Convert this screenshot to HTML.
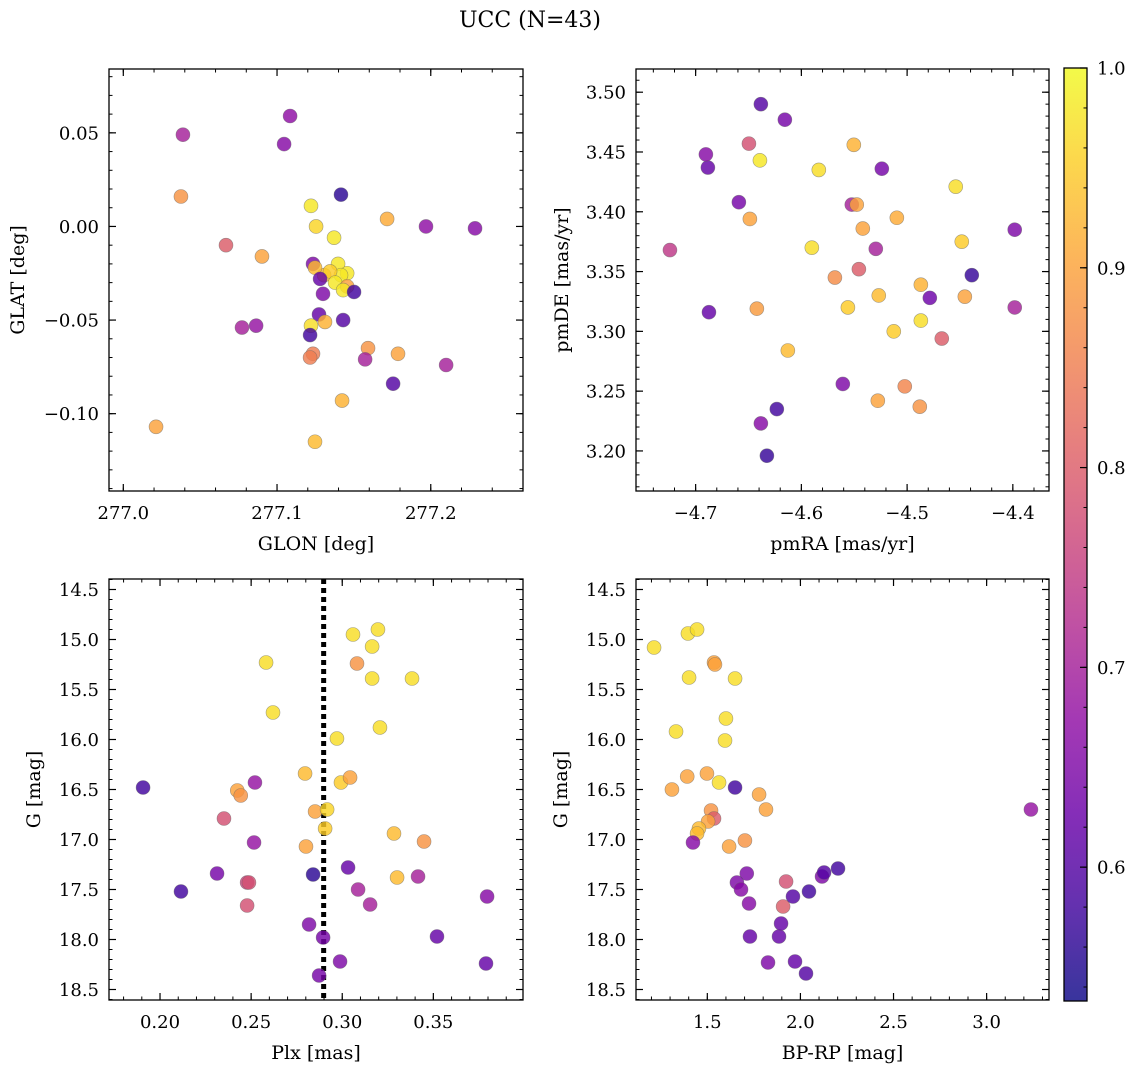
<!DOCTYPE html>
<html><head><meta charset="utf-8"><style>
body{margin:0;background:#fff;}
svg{display:block;font-family:"DejaVu Serif","Liberation Serif",serif;}
</style></head><body>
<svg id="fig" width="1136" height="1068" viewBox="0 0 1136 1068">
<text x="530" y="27" font-size="22" text-anchor="middle">UCC (N=43)</text>
</svg>
<script>
// Panel 1: GLON vs GLAT
const p1Glon=[277.0388,277.1085,277.1046,277.0375,277.1416,277.1221,277.1716,277.1969,277.2288,277.0668,277.1254,277.1371,277.0902,277.1234,277.1397,277.1456,277.1416,277.1306,277.1345,277.1247,277.1280,277.1378,277.1456,277.1430,277.1501,277.1299,277.1273,277.1430,277.1221,277.0772,277.0864,277.1312,277.1215,277.1234,277.1215,277.1592,277.1573,277.1787,277.2100,277.1755,277.1423,277.0213,277.1247];
const p1Glat=[0.049,0.059,0.044,0.016,0.017,0.011,0.004,0.000,-0.001,-0.010,0.000,-0.006,-0.016,-0.020,-0.020,-0.025,-0.026,-0.026,-0.024,-0.022,-0.028,-0.030,-0.032,-0.034,-0.035,-0.036,-0.047,-0.050,-0.053,-0.054,-0.053,-0.051,-0.058,-0.068,-0.070,-0.065,-0.071,-0.068,-0.074,-0.084,-0.093,-0.107,-0.115];
const p1Prob=[0.70,0.67,0.66,0.88,0.56,0.98,0.91,0.67,0.66,0.80,0.96,0.98,0.90,0.65,0.98,0.98,0.98,0.93,0.95,0.93,0.62,0.98,0.90,0.98,0.58,0.65,0.62,0.60,0.97,0.70,0.68,0.92,0.58,0.85,0.85,0.88,0.70,0.90,0.70,0.60,0.92,0.90,0.93];
// Panel 2: pmRA vs pmDE
const p2Pmra=[-4.7243,-4.6884,-4.6903,-4.6874,-4.6383,-4.6156,-4.6496,-4.6392,-4.6591,-4.6487,-4.5504,-4.5835,-4.5239,-4.4540,-4.5523,-4.5476,-4.5097,-4.5419,-4.5901,-4.5296,-4.5683,-4.5456,-4.4870,-4.5268,-4.4785,-4.4454,-4.4388,-4.3982,-4.3982,-4.6421,-4.5560,-4.5126,-4.4870,-4.4672,-4.6128,-4.5608,-4.5022,-4.5277,-4.4880,-4.6232,-4.6383,-4.6326,-4.4483];
const p2Pmde=[3.368,3.437,3.448,3.316,3.490,3.477,3.457,3.443,3.408,3.394,3.456,3.435,3.436,3.421,3.406,3.406,3.395,3.386,3.370,3.369,3.345,3.352,3.339,3.330,3.328,3.329,3.347,3.385,3.320,3.319,3.320,3.300,3.309,3.294,3.284,3.256,3.254,3.242,3.237,3.235,3.223,3.196,3.375];
const p2Prob=[0.74,0.62,0.66,0.62,0.60,0.64,0.78,0.98,0.64,0.90,0.92,0.97,0.64,0.97,0.70,0.90,0.91,0.90,0.97,0.70,0.87,0.80,0.92,0.93,0.63,0.90,0.57,0.65,0.70,0.89,0.95,0.95,0.97,0.80,0.93,0.65,0.86,0.90,0.88,0.58,0.66,0.57,0.95];
// Panel 3: Plx vs G
const p3Plx=[0.1907,0.2115,0.2313,0.2351,0.2424,0.2443,0.2521,0.2516,0.2478,0.2488,0.2478,0.2582,0.2620,0.2796,0.2801,0.2851,0.2840,0.2818,0.2873,0.2895,0.2917,0.2906,0.2971,0.2993,0.3043,0.2988,0.3059,0.3081,0.3164,0.3164,0.3196,0.3207,0.3032,0.3087,0.3153,0.3284,0.3301,0.3383,0.3449,0.3416,0.3520,0.3795,0.3789];
const p3G=[16.48,17.52,17.34,16.79,16.51,16.56,16.43,17.03,17.43,17.43,17.66,15.23,15.73,16.34,17.07,16.72,17.35,17.85,18.36,17.98,16.70,16.89,15.99,16.43,16.38,18.22,14.95,15.24,15.39,15.07,14.90,15.88,17.28,17.50,17.65,16.94,17.38,15.39,17.02,17.37,17.97,17.57,18.24];
const p3Prob=[0.58,0.58,0.64,0.78,0.90,0.88,0.68,0.68,0.76,0.78,0.78,0.97,0.97,0.93,0.90,0.90,0.56,0.65,0.64,0.64,0.96,0.95,0.97,0.95,0.90,0.65,0.97,0.88,0.97,0.97,0.97,0.97,0.62,0.70,0.70,0.93,0.93,0.97,0.88,0.70,0.62,0.66,0.62];
// Panel 4: BP-RP vs G
const p4Bprp=[1.214,1.396,1.445,1.402,1.332,1.536,1.541,1.600,1.649,1.595,1.392,1.310,1.498,1.563,1.649,1.778,1.815,1.520,1.536,1.504,1.455,1.445,1.423,1.617,1.702,1.712,1.659,1.681,1.724,1.729,1.923,1.907,1.885,1.896,1.960,2.046,2.116,2.127,2.202,1.971,2.030,1.826,3.238];
const p4G=[15.08,14.94,14.90,15.38,15.92,15.23,15.25,15.79,15.39,16.01,16.37,16.50,16.34,16.43,16.48,16.55,16.70,16.71,16.79,16.82,16.89,16.94,17.03,17.07,17.01,17.34,17.43,17.50,17.64,17.97,17.42,17.67,17.97,17.84,17.57,17.52,17.37,17.33,17.29,18.22,18.34,18.23,16.70];
const p4Prob=[0.97,0.97,0.97,0.97,0.97,0.90,0.90,0.97,0.97,0.97,0.90,0.90,0.90,0.97,0.58,0.90,0.90,0.88,0.80,0.90,0.93,0.93,0.66,0.90,0.88,0.65,0.65,0.66,0.66,0.62,0.78,0.80,0.62,0.62,0.60,0.58,0.65,0.60,0.58,0.62,0.60,0.65,0.68];
// tick data
const p1XTicks=[277.0,277.1,277.2], p1XLabels=["277.0","277.1","277.2"];
const p1YTicks=[0.05,0.0,-0.05,-0.10], p1YLabels=["0.05","0.00","−0.05","−0.10"];
const p2XTicks=[-4.7,-4.6,-4.5,-4.4], p2XLabels=["−4.7","−4.6","−4.5","−4.4"];
const p2YTicks=[3.20,3.25,3.30,3.35,3.40,3.45,3.50], p2YLabels=["3.20","3.25","3.30","3.35","3.40","3.45","3.50"];
const p3XTicks=[0.20,0.25,0.30,0.35], p3XLabels=["0.20","0.25","0.30","0.35"];
const gTicks=[14.5,15,15.5,16,16.5,17,17.5,18,18.5], gLabels=["14.5","15.0","15.5","16.0","16.5","17.0","17.5","18.0","18.5"];
const p4XTicks=[1.5,2.0,2.5,3.0], p4XLabels=["1.5","2.0","2.5","3.0"];
const cbTicks=[0.6,0.7,0.8,0.9,1.0], cbLabels=["0.6","0.7","0.8","0.9","1.0"];
const plxLine=[0.2898];
const vmin=0.533, vmax=1.0;

const NS="http://www.w3.org/2000/svg";
const svg=document.getElementById('fig');
function mk(tag,attrs,parent){const e=document.createElementNS(NS,tag);for(const k in attrs)e.setAttribute(k,attrs[k]);(parent||svg).appendChild(e);return e;}
const stops=[[13,8,135],[65,4,157],[106,0,168],[143,13,164],[177,42,144],[204,71,120],[225,100,98],[242,132,75],[252,166,54],[252,206,37],[240,249,33]];
function plasma(t){t=Math.max(0,Math.min(1,t));const f=t*10,i=Math.min(9,Math.floor(f)),r=f-i;const a=stops[i],b=stops[i+1];return `rgb(${Math.round(a[0]+(b[0]-a[0])*r)},${Math.round(a[1]+(b[1]-a[1])*r)},${Math.round(a[2]+(b[2]-a[2])*r)})`;}
function colorOf(p){return plasma((p-vmin)/(vmax-vmin));}

function panel(cfg){
  const g=mk('g',{});
  
  
  const {L,R,T,B,x0,x1,y0,y1}=cfg;
  const sx=v=>L+(v-x0)/(x1-x0)*(R-L);
  const sy=v=>cfg.invert? T+(v-y0)/(y1-y0)*(B-T) : B-(v-y0)/(y1-y0)*(B-T);
  const eps=1e-9;
  for(let v=Math.ceil(Math.min(x0,x1)/cfg.xMinor-eps)*cfg.xMinor; v<=Math.max(x0,x1)+eps; v+=cfg.xMinor){const X=sx(v);mk('line',{x1:X,x2:X,y1:B,y2:B-3.5,stroke:'#000','stroke-width':1},g);mk('line',{x1:X,x2:X,y1:T,y2:T+3.5,stroke:'#000','stroke-width':1},g);}
  const ylo=Math.min(y0,y1),yhi=Math.max(y0,y1);
  for(let v=Math.ceil(ylo/cfg.yMinor-eps)*cfg.yMinor; v<=yhi+eps; v+=cfg.yMinor){const Y=sy(v);mk('line',{x1:L,x2:L+3.5,y1:Y,y2:Y,stroke:'#000','stroke-width':1},g);mk('line',{x1:R,x2:R-3.5,y1:Y,y2:Y,stroke:'#000','stroke-width':1},g);}
  cfg.xTicks.forEach((v,i)=>{const X=sx(v);mk('line',{x1:X,x2:X,y1:B,y2:B-7,stroke:'#000','stroke-width':1.2},g);mk('line',{x1:X,x2:X,y1:T,y2:T+7,stroke:'#000','stroke-width':1.2},g);
    const t=mk('text',{x:X,y:B+28,'font-size':18,'text-anchor':'middle'},g);t.textContent=cfg.xLabels[i];
    
    });
  cfg.yTicks.forEach((v,i)=>{const Y=sy(v);mk('line',{x1:L,x2:L+7,y1:Y,y2:Y,stroke:'#000','stroke-width':1.2},g);mk('line',{x1:R,x2:R-7,y1:Y,y2:Y,stroke:'#000','stroke-width':1.2},g);
    const t=mk('text',{x:L-10,y:Y+6.5,'font-size':18,'text-anchor':'end'},g);t.textContent=cfg.yLabels[i];
    
    });
  if(cfg.vline){cfg.vline.forEach(v=>{const X=sx(v);const l=mk('line',{x1:X,x2:X,y1:T,y2:B,stroke:'#000','stroke-width':5,'stroke-dasharray':'5,4'},g);
    
    });}
  cfg.xs.forEach((xv,i)=>{const c=mk('circle',{cx:sx(xv),cy:sy(cfg.ys[i]),r:7,fill:colorOf(cfg.ps[i]),'fill-opacity':0.82,stroke:'#666','stroke-opacity':0.6,'stroke-width':0.6},g);
    
    });
  const fr=mk('rect',{x:L,y:T,width:R-L,height:B-T,fill:'none',stroke:'#000','stroke-width':1.3},g);
  
  
  const xl=mk('text',{x:(L+R)/2,y:B+59,'font-size':19,'text-anchor':'middle'},g);xl.textContent=cfg.xTitle;
  
  
  const yx=cfg.yTitleX, yc=(T+B)/2;
  const yl=mk('text',{x:yx,y:yc,'font-size':19,'text-anchor':'middle',transform:`rotate(-90 ${yx} ${yc})`},g);yl.textContent=cfg.yTitle;
  
  
}
panel({name:'panel-glon-glat',L:109,R:523,T:69,B:491,x0:276.9907,x1:277.2600,y0:-0.1413,y1:0.0841,xMinor:0.02,yMinor:0.01,xTicks:p1XTicks,xLabels:p1XLabels,yTicks:p1YTicks,yLabels:p1YLabels,xs:p1Glon,ys:p1Glat,ps:p1Prob,xTitle:'GLON [deg]',yTitle:'GLAT [deg]',yTitleX:24});
panel({name:'panel-pmra-pmde',L:636,R:1049,T:69,B:491,x0:-4.7564,x1:-4.3658,y0:3.1665,y1:3.5194,xMinor:0.02,yMinor:0.01,xTicks:p2XTicks,xLabels:p2XLabels,yTicks:p2YTicks,yLabels:p2YLabels,xs:p2Pmra,ys:p2Pmde,ps:p2Prob,xTitle:'pmRA [mas/yr]',yTitle:'pmDE [mas/yr]',yTitleX:568});
panel({name:'panel-plx-g',L:109,R:523,T:579,B:1000,invert:true,x0:0.1720,x1:0.3992,y0:14.395,y1:18.605,xMinor:0.01,yMinor:0.1,xTicks:p3XTicks,xLabels:p3XLabels,yTicks:gTicks,yLabels:gLabels,xs:p3Plx,ys:p3G,ps:p3Prob,xTitle:'Plx [mas]',yTitle:'G [mag]',yTitleX:40,vline:plxLine});
panel({name:'panel-bprp-g',L:636,R:1049,T:579,B:1000,invert:true,x0:1.117,x1:3.335,y0:14.395,y1:18.605,xMinor:0.1,yMinor:0.1,xTicks:p4XTicks,xLabels:p4XLabels,yTicks:gTicks,yLabels:gLabels,xs:p4Bprp,ys:p4G,ps:p4Prob,xTitle:'BP-RP [mag]',yTitle:'G [mag]',yTitleX:567});

// colorbar
(function(){
  const L=1064,R=1087,T=68,B=1001;
  const g=mk('g',{});
  
  
  const defs=mk('defs',{},g);
  const lg=mk('linearGradient',{id:'cbg',x1:0,y1:1,x2:0,y2:0},defs);
  for(let i=0;i<=20;i++){mk('stop',{offset:i/20,'stop-color':plasma(i/20),'stop-opacity':0.82},lg);}
  mk('rect',{x:L,y:T,width:R-L,height:B-T,fill:'url(#cbg)'},g);
  const sy=v=>B-(v-vmin)/(vmax-vmin)*(B-T);
  for(let v=0.54;v<=1.0001;v+=0.02){const Y=sy(v);mk('line',{x1:R,x2:R-3.5,y1:Y,y2:Y,stroke:'#000','stroke-width':1},g);}
  cbTicks.forEach((v,i)=>{const Y=sy(v);mk('line',{x1:R,x2:R-7,y1:Y,y2:Y,stroke:'#000','stroke-width':1.2},g);
    const t=mk('text',{x:R+10,y:Y+6.5,'font-size':18},g);t.textContent=cbLabels[i];
    
    });
  mk('rect',{x:L,y:T,width:R-L,height:B-T,fill:'none',stroke:'#000','stroke-width':1.3},g);
})();
</script>
</body></html>
